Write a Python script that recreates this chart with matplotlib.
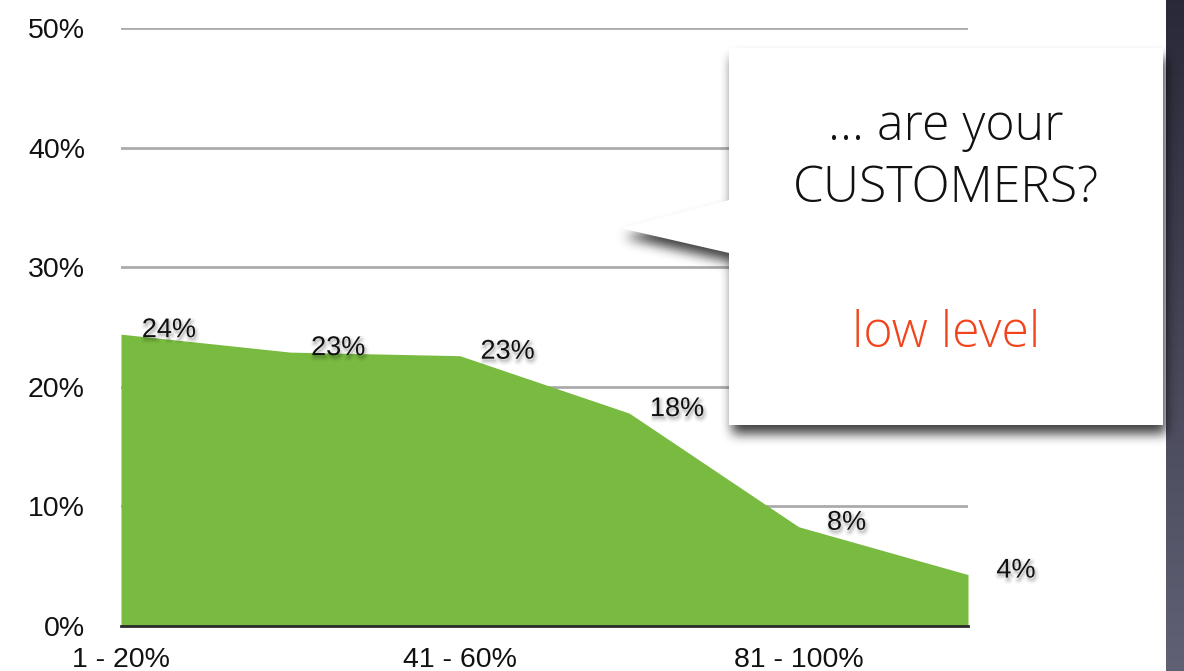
import numpy as np
import matplotlib
matplotlib.use("Agg")
import matplotlib.pyplot as plt
import matplotlib.patheffects as pe
from matplotlib.path import Path
from matplotlib.patches import Polygon

# share of respondents per band
bands = ["1 - 20%", "", "41 - 60%", "", "81 - 100%", ""]
share = [24.4, 22.9, 22.6, 17.8, 8.3, 4.3]
y_ticks = [0, 10, 20, 30, 40, 50]
y_labels = ["0%", "10%", "20%", "30%", "40%", "50%"]

W, H = 1184, 671
plt.rcParams['font.family'] = ['Liberation Sans', 'DejaVu Sans']

fig = plt.figure(figsize=(W / 100, H / 100), dpi=100)
ax = fig.add_axes([121 / W, 45 / H, 847 / W, 598 / H])

x = np.arange(len(share))
ax.fill_between(x, share, color='#79bb41', lw=0, zorder=2)
ax.set_xlim(0, len(share) - 1)
ax.set_ylim(0, 50)
ax.set_yticks(y_ticks)
ax.set_yticklabels(y_labels)
ax.set_xticks(x)
ax.set_xticklabels(bands)
ax.yaxis.grid(True, color='#ababab', lw=2)
ax.set_axisbelow(True)
for s in ['top', 'right', 'left']:
    ax.spines[s].set_visible(False)
ax.spines['bottom'].set_color('#2a2a2a')
ax.spines['bottom'].set_linewidth(2)
ax.spines['bottom'].set_zorder(3)
ax.tick_params(axis='y', length=0, labelsize=20.5, pad=26, labelcolor='#111')
ax.tick_params(axis='x', length=0, labelsize=20.5, pad=15, labelcolor='#111')

# soft drop shadow behind the value labels
soft = [pe.Stroke(offset=(1, -2), linewidth=5, foreground='k', alpha=0.04),
        pe.Stroke(offset=(1, -2), linewidth=2.5, foreground='k', alpha=0.07),
        pe.Normal()]
for i, v in enumerate(share):
    ax.annotate(f"{v:.0f}%", (i, v), xytext=(48, 4), textcoords='offset pixels',
                ha='center', va='center', fontsize=19.5, color='#111',
                path_effects=soft, zorder=4)

# overlay in pixel coordinates for the callout
ov = fig.add_axes([0, 0, 1, 1])
ov.axis('off')
ov.patch.set_visible(False)

# dark strip at the right edge
grad = np.linspace(0, 1, H)[:, None]
top, bot = np.array([0.16, 0.16, 0.22]), np.array([0.38, 0.38, 0.46])
strip = (top + (bot - top) * grad[..., None]) * np.ones((1, 2, 1))
ov.imshow(strip, extent=(1166, W, H, 0), aspect='auto', zorder=1)

callout = [(729, 48), (1163, 48), (1163, 425), (729, 425),
           (729, 253), (620, 228), (729, 200)]


def blur(a, r):
    k = np.ones(2 * r + 1) / (2 * r + 1)
    for _ in range(3):
        a = np.apply_along_axis(lambda m: np.convolve(m, k, mode='same'), 0, a)
        a = np.apply_along_axis(lambda m: np.convolve(m, k, mode='same'), 1, a)
    return a


gx, gy = np.meshgrid(np.arange(W) + 0.5, np.arange(H) + 0.5)
pts = np.column_stack([gx.ravel() - 3, gy.ravel() - 9])
mask = Path(callout).contains_points(pts).reshape(H, W).astype(float)
mask = blur(mask, 5)
img = np.zeros((H, W, 4))
img[..., 3] = mask * 0.75
ov.imshow(img, extent=(0, W, H, 0), aspect='auto', zorder=2, interpolation='bilinear')
ov.set_xlim(0, W)
ov.set_ylim(H, 0)

ov.add_patch(Polygon(callout, closed=True, facecolor='white', edgecolor='none', zorder=3))

tfont = dict(ha='center', va='center', fontsize=36, family='Open Sans', weight='light', zorder=4)
ov.text(946, 127, "... are your", color='#111', **tfont)
ov.text(946, 189, "CUSTOMERS?", color='#111', **tfont)
ov.text(946, 334, "low level", color='#f2441c', **tfont)

fig.savefig('out.png', dpi=100)
